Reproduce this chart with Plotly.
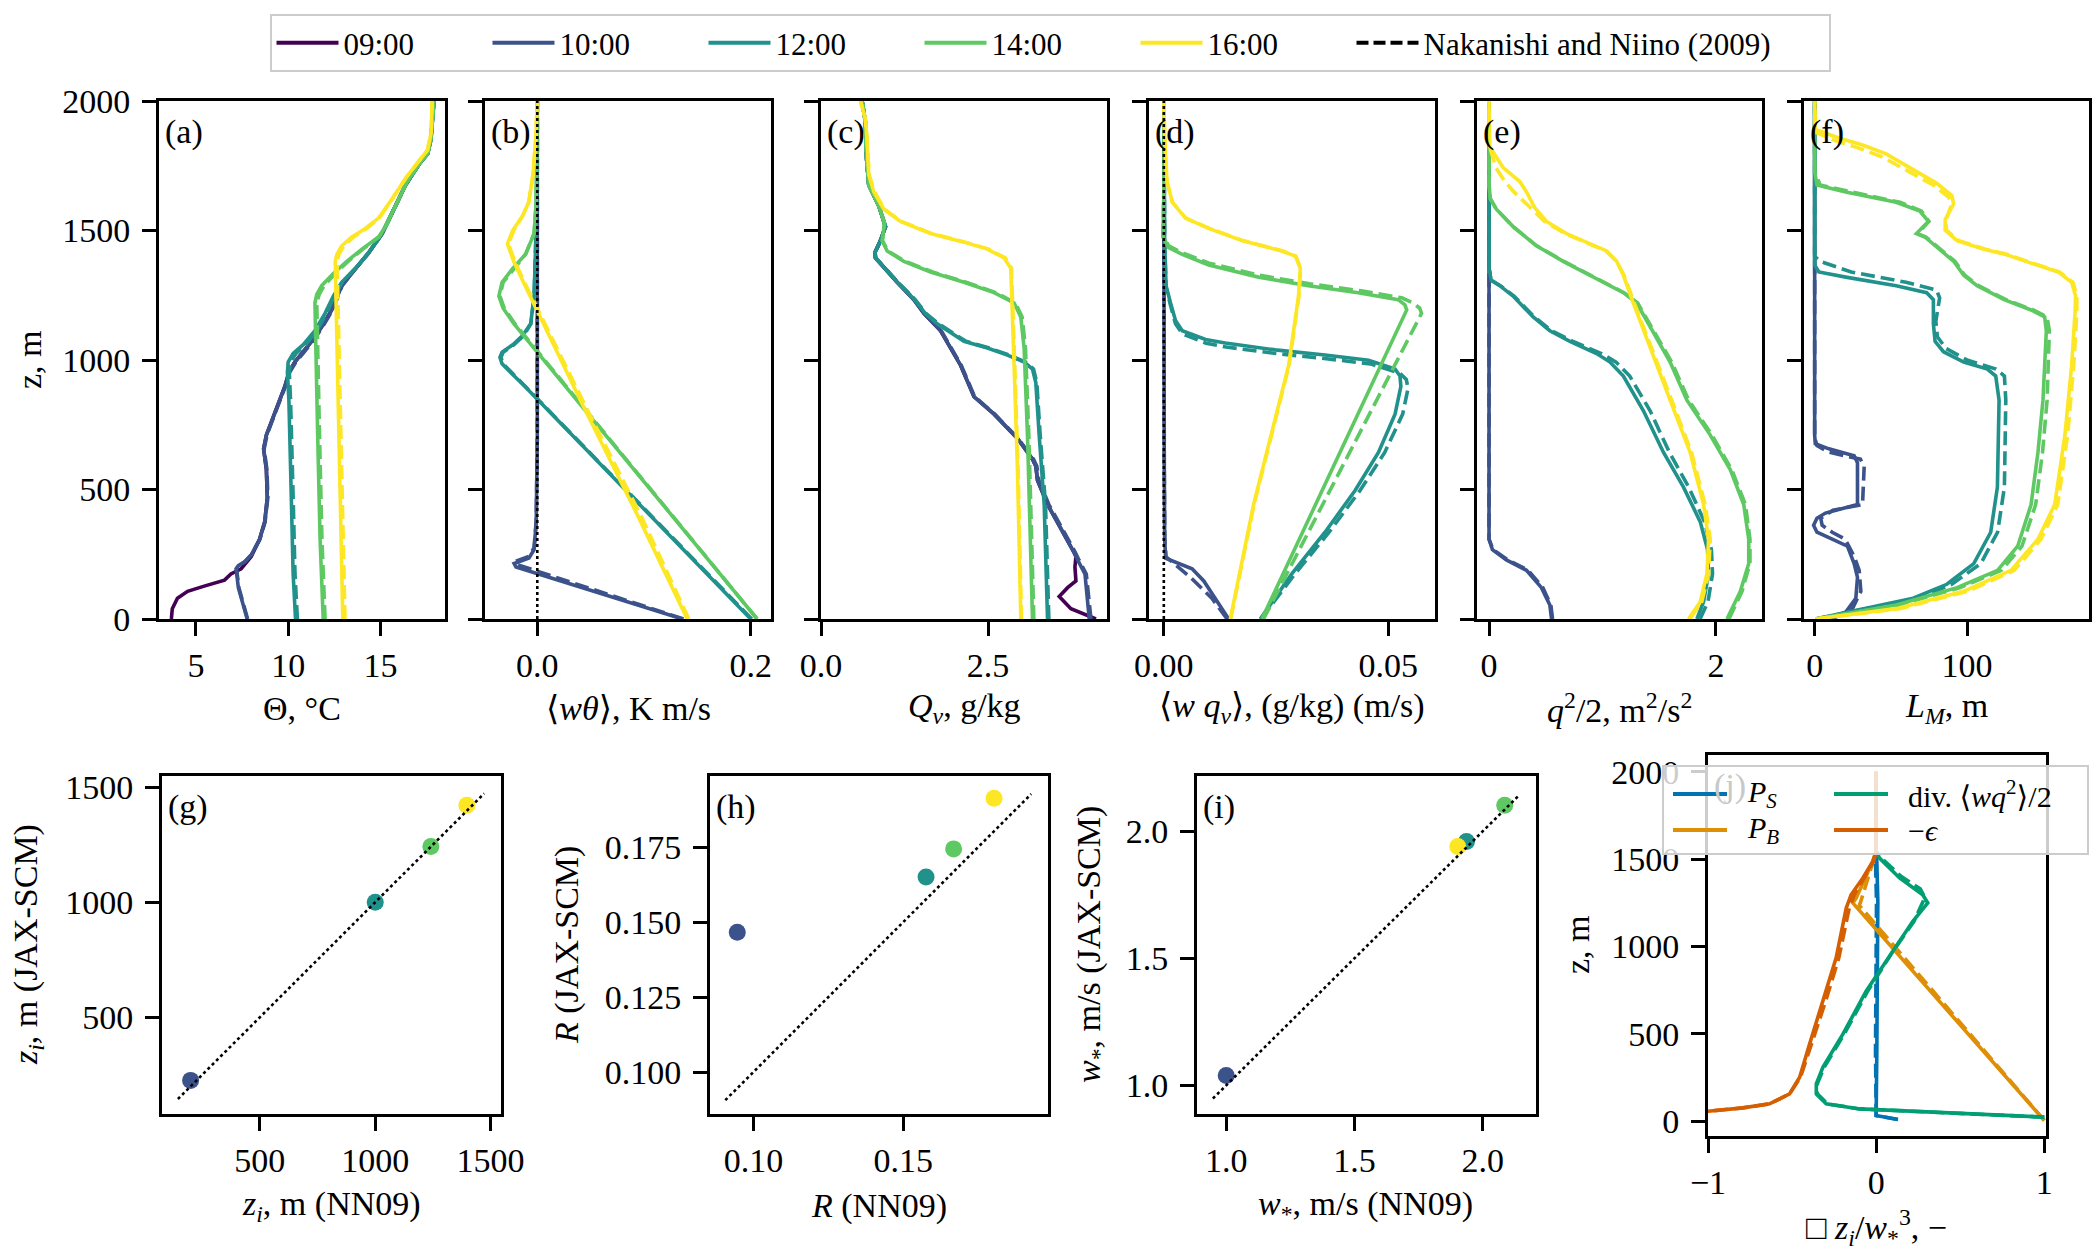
import plotly.graph_objects as go

W, H = 2100, 1260
FONT = "Liberation Serif, DejaVu Serif, serif"
FS = 34
C09, C10, C12, C14, C16 = "#440154", "#3b528b", "#21918c", "#5ec962", "#fde725"
CPS, CPB, CDIV, CEPS = "#0173b2", "#de8f05", "#029e73", "#d55e00"

# ---------------- (a) potential temperature, degC ----------------
a09_z = [0, 40, 80, 107, 127, 150, 174, 194, 241, 308, 375, 469, 576, 657, 710, 777, 845, 898, 952, 992, 1025, 1072, 1126, 1193, 1287, 1354, 1414, 1488, 1568, 1676, 1756, 1796, 1850, 2000]
a09_x = [3.67, 3.72, 4.0, 4.55, 5.45, 6.55, 6.9, 7.45, 8.0, 8.45, 8.73, 8.87, 8.82, 8.67, 8.82, 9.18, 9.55, 9.82, 10.04, 10.36, 10.73, 11.27, 11.8, 12.36, 12.9, 13.64, 14.36, 15.09, 15.64, 16.36, 17.09, 17.55, 17.73, 17.9]
a10_z = [0, 54, 121, 194, 206, 221, 248, 308, 375, 469, 576, 657, 710, 777, 845, 898, 952, 992, 1025, 1072, 1126, 1193, 1287, 1354, 1414, 1488, 1568, 1676, 1756, 1796, 1850, 2000]
a10_x = [7.78, 7.55, 7.3, 7.18, 7.3, 7.64, 8.0, 8.45, 8.73, 8.87, 8.82, 8.67, 8.82, 9.18, 9.55, 9.82, 10.04, 10.36, 10.73, 11.27, 11.8, 12.36, 12.9, 13.64, 14.36, 15.09, 15.64, 16.36, 17.09, 17.55, 17.73, 17.9]
a10_xn = [7.8, 7.57, 7.33, 7.2, 7.32, 7.66, 8.02, 8.47, 8.75, 8.9, 8.85, 8.7, 8.85, 9.2, 9.57, 9.85, 10.08, 10.42, 10.8, 11.33, 11.85, 12.4, 12.93, 13.66, 14.38, 15.1, 15.65, 16.37, 17.1, 17.56, 17.74, 17.9]
a12_z = [0, 174, 442, 710, 845, 952, 992, 1025, 1059, 1113, 1180, 1247, 1300, 1354, 1414, 1488, 1568, 1676, 1756, 1796, 1850, 2000]
a12_x = [10.4, 10.27, 10.18, 10.11, 10.04, 9.96, 10.0, 10.27, 10.82, 11.45, 12.0, 12.45, 12.9, 13.64, 14.36, 15.09, 15.64, 16.36, 17.09, 17.55, 17.73, 17.9]
a12_xn = [10.5, 10.37, 10.28, 10.2, 10.13, 10.06, 10.12, 10.42, 10.95, 11.55, 12.08, 12.5, 12.93, 13.66, 14.38, 15.1, 15.65, 16.37, 17.1, 17.56, 17.74, 17.9]
a14_z = [0, 308, 710, 979, 1220, 1253, 1287, 1334, 1381, 1428, 1475, 1515, 1595, 1689, 1756, 1796, 1850, 2000]
a14_x = [11.9, 11.73, 11.6, 11.5, 11.45, 11.55, 11.82, 12.45, 13.18, 14.0, 14.9, 15.27, 15.8, 16.45, 17.09, 17.55, 17.73, 17.9]
a14_xn = [12.0, 11.83, 11.7, 11.6, 11.55, 11.68, 11.95, 12.55, 13.25, 14.05, 14.92, 15.28, 15.8, 16.45, 17.09, 17.55, 17.73, 17.9]
a16_z = [0, 442, 845, 1113, 1381, 1408, 1441, 1475, 1508, 1548, 1622, 1702, 1769, 1810, 1877, 2000]
a16_x = [12.96, 12.82, 12.69, 12.6, 12.55, 12.64, 12.9, 13.45, 14.18, 14.9, 15.64, 16.36, 17.09, 17.55, 17.75, 17.8]
a16_xn = [13.08, 12.93, 12.79, 12.7, 12.65, 12.75, 13.02, 13.55, 14.25, 14.95, 15.66, 16.37, 17.09, 17.55, 17.75, 17.8]

# ---------------- (b) heat flux <w theta>, K m/s ----------------
b10_z = [0, 201, 214, 235, 268, 375, 700, 2000]
b10_x = [0.136, -0.020, -0.0217, -0.0078, -0.003, -0.001, 0.0, 0.0]
b10n_z = [0, 210, 222, 242, 275, 380, 700, 2000]
b10n_x = [0.137, -0.019, -0.021, -0.008, -0.003, -0.001, 0.0, 0.0]
b12_z = [0, 520, 845, 900, 952, 985, 1010, 1030, 1059, 1093, 1140, 1247, 1515, 1782, 2000]
b12_x = [0.200, 0.0775, 0.0016, -0.012, -0.025, -0.033, -0.035, -0.033, -0.023, -0.014, -0.0062, -0.003, -0.001, 0.0, 0.0]
b12_xn = [0.201, 0.0785, 0.0022, -0.011, -0.024, -0.032, -0.034, -0.032, -0.022, -0.013, -0.006, -0.003, -0.001, 0.0, 0.0]
b14_z = [0, 791, 1030, 1140, 1200, 1247, 1300, 1354, 1408, 1488, 1609, 2000]
b14_x = [0.206, 0.048, 0.0, -0.022, -0.032, -0.036, -0.033, -0.023, -0.011, -0.003, -0.001, 0.0]
b14_xn = [0.206, 0.049, 0.001, -0.021, -0.031, -0.035, -0.032, -0.022, -0.011, -0.003, -0.001, 0.0]
b16_z = [0, 400, 831, 1186, 1300, 1380, 1420, 1448, 1501, 1555, 1609, 1716, 1850, 2000]
b16_x = [0.1405, 0.094, 0.042, 0.0, -0.013, -0.022, -0.026, -0.028, -0.023, -0.014, -0.008, -0.004, -0.0015, 0.0]
b16_xn = [0.142, 0.097, 0.044, 0.001, -0.012, -0.021, -0.025, -0.027, -0.022, -0.014, -0.008, -0.004, -0.0015, 0.0]

# ---------------- (c) specific humidity Qv, g/kg ----------------
c09_z = [0, 40, 87, 121, 147, 201, 241, 255, 349, 442, 536, 590, 617, 697, 791, 858, 979, 1113, 1180, 1233, 1300, 1394, 1414, 1461, 1515, 1595, 1676, 1783, 1917, 2000]
c09_x = [4.115, 3.74, 3.565, 3.69, 3.815, 3.8, 3.815, 3.79, 3.59, 3.39, 3.24, 3.215, 3.165, 2.94, 2.59, 2.29, 2.09, 1.79, 1.54, 1.39, 1.14, 0.815, 0.805, 0.89, 0.965, 0.865, 0.715, 0.68, 0.665, 0.615]
c10_z = [0, 174, 228, 255, 349, 442, 536, 590, 617, 697, 791, 858, 979, 1113, 1180, 1233, 1300, 1394, 1414, 1461, 1515, 1595, 1676, 1783, 1917, 2000]
c10_x = [4.015, 3.95, 3.84, 3.79, 3.59, 3.39, 3.24, 3.215, 3.165, 2.94, 2.59, 2.29, 2.09, 1.79, 1.54, 1.39, 1.14, 0.815, 0.805, 0.89, 0.965, 0.865, 0.715, 0.68, 0.665, 0.615]
c10_xn = [4.04, 3.97, 3.86, 3.81, 3.61, 3.41, 3.26, 3.23, 3.18, 2.95, 2.6, 2.3, 2.1, 1.8, 1.55, 1.4, 1.15, 0.82, 0.81, 0.89, 0.965, 0.865, 0.715, 0.68, 0.665, 0.615]
c12_z = [0, 442, 710, 912, 965, 992, 1019, 1046, 1072, 1113, 1140, 1180, 1233, 1300, 1394, 1414, 1461, 1515, 1595, 1676, 1783, 1917, 2000]
c12_x = [3.39, 3.34, 3.265, 3.215, 3.165, 3.04, 2.79, 2.49, 2.14, 1.89, 1.74, 1.56, 1.40, 1.14, 0.815, 0.805, 0.89, 0.965, 0.865, 0.715, 0.68, 0.665, 0.615]
c12_xn = [3.41, 3.36, 3.28, 3.23, 3.18, 3.06, 2.82, 2.52, 2.17, 1.91, 1.76, 1.57, 1.41, 1.15, 0.82, 0.81, 0.89, 0.965, 0.865, 0.715, 0.68, 0.665, 0.615]
c14_z = [0, 710, 1046, 1166, 1220, 1260, 1300, 1340, 1381, 1421, 1461, 1501, 1528, 1595, 1676, 1783, 1917, 2000]
c14_x = [3.165, 3.09, 3.04, 2.99, 2.89, 2.59, 2.14, 1.64, 1.24, 0.99, 0.915, 0.94, 0.95, 0.865, 0.715, 0.68, 0.665, 0.615]
c14_xn = [3.185, 3.11, 3.06, 3.01, 2.91, 2.62, 2.17, 1.67, 1.26, 1.0, 0.92, 0.94, 0.95, 0.865, 0.715, 0.68, 0.665, 0.615]
c16_z = [0, 576, 979, 1220, 1354, 1394, 1428, 1455, 1488, 1535, 1582, 1649, 1716, 1850, 1930, 2000]
c16_x = [2.99, 2.94, 2.89, 2.865, 2.84, 2.74, 2.49, 2.14, 1.64, 1.19, 0.94, 0.79, 0.715, 0.69, 0.665, 0.59]
c16_xn = [3.0, 2.95, 2.9, 2.875, 2.85, 2.76, 2.51, 2.16, 1.66, 1.2, 0.95, 0.8, 0.72, 0.69, 0.665, 0.59]

# ---------------- (d) moisture flux <w qv>, (g/kg)(m/s) ----------------
d10_z = [0, 67, 147, 194, 235, 308, 600, 2000]
d10_x = [0.01444, 0.01185, 0.0089, 0.0063, 0.0004, 0.0002, 0.0001, 0.0]
d10n_z = [0, 80, 160, 210, 240, 308, 600, 2000]
d10n_x = [0.0141, 0.0107, 0.0060, 0.0025, 0.0005, 0.0002, 0.0001, 0.0]
d12_z = [0, 174, 335, 496, 643, 791, 898, 938, 965, 999, 1019, 1039, 1066, 1079, 1113, 1153, 1220, 1287, 1448, 2000]
d12_x = [0.02148, 0.0285, 0.0359, 0.0426, 0.0478, 0.0515, 0.0528, 0.0526, 0.0515, 0.0456, 0.0359, 0.0248, 0.0137, 0.0093, 0.0041, 0.0026, 0.0015, 0.0005, 0.0002, 0.0]
d12n_z = [0, 174, 335, 496, 643, 791, 890, 925, 950, 985, 1005, 1025, 1050, 1065, 1100, 1140, 1210, 1280, 1448, 2000]
d12n_x = [0.0216, 0.0292, 0.0368, 0.0437, 0.0492, 0.0532, 0.0544, 0.0540, 0.0525, 0.0460, 0.0362, 0.0250, 0.0139, 0.0094, 0.0042, 0.0026, 0.0015, 0.0005, 0.0002, 0.0]
d14_z = [0, 1153, 1193, 1213, 1233, 1260, 1287, 1320, 1367, 1408, 1434, 1475, 1649, 2000]
d14_x = [0.02185, 0.0530, 0.0541, 0.0537, 0.0522, 0.0433, 0.0322, 0.0211, 0.0100, 0.0041, 0.0011, -0.0002, 0.0, 0.0]
d14n_z = [0, 1180, 1200, 1220, 1240, 1267, 1294, 1327, 1374, 1414, 1441, 1480, 1649, 2000]
d14n_x = [0.0222, 0.0574, 0.0570, 0.0555, 0.0530, 0.0440, 0.0325, 0.0213, 0.0101, 0.0041, 0.0011, -0.0002, 0.0, 0.0]
d16_z = [0, 442, 979, 1247, 1354, 1401, 1421, 1461, 1508, 1548, 1609, 1689, 1850, 2000]
d16_x = [0.0148, 0.0200, 0.0278, 0.0300, 0.0304, 0.0293, 0.0263, 0.0174, 0.0100, 0.0048, 0.0019, 0.0007, 0.0002, 0.0]
d16_xn = [0.0149, 0.0201, 0.0279, 0.0301, 0.0305, 0.0294, 0.0265, 0.0176, 0.0101, 0.0049, 0.0019, 0.0007, 0.0002, 0.0]

# ---------------- (e) TKE q^2/2, m2/s2 ----------------
e10_z = [0, 54, 121, 188, 228, 268, 308, 2000]
e10_x = [0.551, 0.536, 0.462, 0.33, 0.153, 0.03, 0.0, 0.0]
e10_xn = [0.56, 0.545, 0.475, 0.345, 0.165, 0.035, 0.0, 0.0]
e12_z = [0, 67, 174, 268, 375, 509, 643, 804, 938, 992, 1025, 1072, 1113, 1166, 1247, 1287, 1307, 1354, 2000]
e12_x = [1.832, 1.891, 1.935, 1.926, 1.862, 1.714, 1.538, 1.361, 1.184, 1.066, 0.948, 0.713, 0.536, 0.389, 0.212, 0.094, 0.02, 0.0, 0.0]
e12_xn = [1.86, 1.93, 1.97, 1.96, 1.90, 1.76, 1.59, 1.42, 1.24, 1.12, 0.99, 0.74, 0.55, 0.40, 0.22, 0.10, 0.025, 0.0, 0.0]
e14_z = [0, 107, 214, 308, 442, 576, 710, 845, 992, 1126, 1220, 1260, 1314, 1381, 1441, 1515, 1582, 1622, 1676, 2000]
e14_x = [2.097, 2.215, 2.289, 2.289, 2.245, 2.127, 1.95, 1.744, 1.596, 1.42, 1.302, 1.184, 0.948, 0.654, 0.418, 0.212, 0.065, 0.012, 0.0, 0.0]
e14_xn = [2.115, 2.23, 2.30, 2.30, 2.26, 2.14, 1.965, 1.76, 1.61, 1.43, 1.31, 1.19, 0.955, 0.66, 0.42, 0.212, 0.065, 0.012, 0.0, 0.0]
e16_z = [0, 67, 174, 308, 442, 643, 845, 1046, 1220, 1327, 1381, 1421, 1454, 1488, 1535, 1588, 1649, 1689, 1743, 1823, 1900, 2000]
e16_x = [1.758, 1.862, 1.92, 1.935, 1.891, 1.773, 1.596, 1.42, 1.272, 1.184, 1.125, 1.037, 0.86, 0.683, 0.507, 0.403, 0.33, 0.271, 0.124, 0.006, 0.0, 0.0]
e16_xn = [1.77, 1.875, 1.935, 1.95, 1.905, 1.785, 1.61, 1.43, 1.28, 1.19, 1.125, 1.03, 0.85, 0.67, 0.49, 0.36, 0.22, 0.14, 0.06, 0.006, 0.0, 0.0]

# ---------------- (f) mixing length L_M, m ----------------
f10_z = [0, 27, 80, 161, 214, 281, 308, 335, 362, 389, 409, 442, 603, 630, 657, 677, 710, 2000]
f10_x = [9.3, 20.4, 27.0, 28.1, 25.9, 21.5, 11.5, 1.5, -0.7, 1.5, 7.1, 28.1, 28.1, 25.9, 9.3, 0.4, 0.0, 0.0]
f10n_z = [0, 40, 107, 188, 241, 308, 335, 362, 389, 420, 442, 590, 617, 644, 670, 700, 2000]
f10n_x = [11.5, 24.8, 30.3, 29.2, 26.0, 20.0, 11.5, 4.9, 4.0, 12.0, 31.4, 32.5, 30.0, 9.3, 1.5, 0.0, 0.0]
f12_z = [0, 40, 80, 134, 214, 335, 509, 845, 938, 965, 992, 1032, 1072, 1140, 1233, 1260, 1287, 1320, 1340, 1367, 2000]
f12_x = [0.4, 31.4, 64.6, 86.7, 104.4, 115.5, 119.9, 121.0, 118.8, 113.3, 97.8, 84.5, 79.0, 77.9, 77.9, 73.5, 53.5, 20.4, 2.7, 0.0, 0.0]
f12n_z = [0, 40, 80, 134, 214, 335, 509, 845, 938, 965, 1000, 1045, 1090, 1150, 1240, 1270, 1300, 1340, 1380, 1400, 2000]
f12n_x = [0.5, 33.0, 68.0, 90.0, 109.0, 120.0, 124.5, 125.4, 124.5, 119.0, 100.0, 86.0, 80.5, 79.5, 82.0, 80.0, 60.0, 24.0, 4.0, 0.0, 0.0]
f14_z = [0, 54, 121, 188, 281, 442, 643, 845, 1113, 1166, 1193, 1233, 1287, 1327, 1381, 1434, 1475, 1488, 1515, 1535, 1575, 1609, 1649, 1676, 1729, 2000]
f14_x = [0.4, 53.5, 93.4, 120.0, 133.2, 142.0, 146.5, 149.8, 152.0, 150.9, 142.0, 124.3, 106.6, 97.8, 91.2, 80.1, 72.3, 66.8, 71.2, 74.6, 69.0, 53.5, 20.4, 1.5, 0.0, 0.0]
f14_xn = [0.5, 55.0, 95.5, 122.5, 136.0, 145.0, 149.5, 152.5, 154.0, 152.5, 143.5, 125.5, 107.5, 98.5, 92.0, 81.0, 73.0, 67.5, 72.0, 75.0, 70.0, 56.0, 24.0, 3.5, 0.0, 0.0]
f16_z = [0, 40, 107, 188, 308, 442, 710, 979, 1180, 1247, 1300, 1340, 1374, 1408, 1428, 1461, 1501, 1542, 1602, 1635, 1682, 1736, 1796, 1830, 1857, 1890, 2000]
f16_x = [0.4, 53.5, 97.8, 128.8, 146.5, 157.5, 164.2, 168.6, 170.8, 171.2, 168.6, 159.7, 142.0, 125.0, 111.0, 93.4, 85.6, 85.6, 91.2, 90.0, 80.1, 64.6, 46.9, 31.4, 15.9, 0.4, 0.0]
f16n_z = [0, 40, 107, 188, 308, 442, 710, 979, 1180, 1247, 1300, 1340, 1374, 1408, 1428, 1461, 1501, 1540, 1595, 1628, 1675, 1725, 1785, 1820, 1850, 1880, 2000]
f16n_x = [0.5, 56.0, 100.5, 131.0, 148.5, 159.5, 166.0, 170.0, 172.0, 172.0, 169.5, 160.5, 143.0, 126.0, 112.0, 94.5, 86.5, 86.0, 89.5, 88.0, 78.0, 62.0, 44.0, 28.0, 12.0, 0.4, 0.0]

# ---------------- (g)-(i) scatter: NN09 vs JAX-SCM (10, 12, 14, 16 h) ----------------
zi_nn09 = [200, 1000, 1241, 1397]
zi_jax = [226, 1000, 1242, 1421]
r_nn09 = [0.0946, 0.1576, 0.1668, 0.1803]
r_jax = [0.1466, 0.1650, 0.1744, 0.1913]
ws_nn09 = [1.000, 1.937, 2.086, 1.903]
ws_jax = [1.039, 1.960, 2.103, 1.940]
zi_diag = [145, 1472]
r_diag = [0.0906, 0.1927]
ws_diag = [0.948, 2.141]

# ---------------- (j) TKE budget, normalised ----------------
ps_z = [10, 32, 403, 973, 1258, 1487, 1544, 2000]
ps_x = [0.129, 0.0, 0.004, 0.010, 0.010, 0.004, 0.0, 0.0]
ps_xn = [0.130, 0.0, -0.004, 0.0, 0.002, -0.004, 0.0, 0.0]
pb_z = [4, 1249, 1277, 1487, 1544, 2000]
pb_x = [1.0, -0.139, -0.119, -0.02, 0.0, 0.0]
pbn_z = [4, 1235, 1262, 1487, 1544, 2000]
pbn_x = [1.0, -0.100, -0.090, -0.02, 0.0, 0.0]
div_z = [23, 36, 51, 70, 99, 156, 213, 308, 498, 745, 973, 1144, 1249, 1296, 1392, 1506, 1544, 2000]
div_x = [1.0, 0.693, 0.297, -0.099, -0.297, -0.356, -0.356, -0.317, -0.198, -0.059, 0.099, 0.218, 0.307, 0.277, 0.139, 0.02, 0.0, 0.0]
divn_z = [23, 36, 51, 70, 99, 156, 213, 308, 498, 745, 973, 1144, 1280, 1330, 1400, 1506, 1544, 2000]
divn_x = [1.0, 0.693, 0.297, -0.099, -0.29, -0.35, -0.35, -0.31, -0.19, -0.05, 0.10, 0.225, 0.29, 0.262, 0.15, 0.03, 0.0, 0.0]
eps_z = [48, 57, 76, 99, 156, 251, 441, 688, 935, 1220, 1296, 1392, 1487, 1544, 2000]
eps_x = [-1.2, -1.0, -0.792, -0.634, -0.515, -0.455, -0.396, -0.317, -0.238, -0.178, -0.149, -0.079, -0.02, 0.0, 0.0]
eps_xn = [-1.2, -1.0, -0.792, -0.634, -0.515, -0.45, -0.385, -0.300, -0.222, -0.16, -0.13, -0.07, -0.015, 0.0, 0.0]

legend_names = ["09:00", "10:00", "12:00", "14:00", "16:00"]
legend_colors = [C09, C10, C12, C14, C16]
budget_names = ["<i>P<sub>S</sub></i>", "<i>P<sub>B</sub></i>", "div. ⟨<i>wq</i><sup>2</sup>⟩/2", "−<i>ϵ</i>"]
budget_colors = [CPS, CPB, CDIV, CEPS]

# ---------------- layout geometry (pixels) ----------------
boxes = {
    1: (159, 445, 101, 619), 2: (485, 771, 101, 619), 3: (821, 1107, 101, 619),
    4: (1149, 1435, 101, 619), 5: (1477, 1762, 101, 619), 6: (1804, 2089, 101, 619),
    7: (162, 501, 776, 1114), 8: (710, 1048, 776, 1114), 9: (1197, 1536, 776, 1114),
    10: (1708, 2046, 755, 1136),
}


def px(x):
    return x / W


def py(y):
    return 1 - y / H


fig = go.Figure()

LW = 3.6
DASH = "14px,6px"


def prof(ax, x, z, color, dashed=False, width=LW):
    fig.add_trace(go.Scatter(
        x=x, y=z, mode="lines", xaxis=f"x{ax}", yaxis=f"y{ax}",
        line=dict(color=color, width=width, dash=DASH if dashed else "solid"),
        showlegend=False, hoverinfo="skip"))


# (a)
prof(1, a09_x, a09_z, C09)
prof(1, a10_x, a10_z, C10); prof(1, a10_xn, a10_z, C10, True)
prof(1, a12_x, a12_z, C12); prof(1, a12_xn, a12_z, C12, True)
prof(1, a14_x, a14_z, C14); prof(1, a14_xn, a14_z, C14, True)
prof(1, a16_x, a16_z, C16); prof(1, a16_xn, a16_z, C16, True)
# (b)
prof(2, b10_x, b10_z, C10); prof(2, b10n_x, b10n_z, C10, True)
prof(2, b12_x, b12_z, C12); prof(2, b12_xn, b12_z, C12, True)
prof(2, b14_x, b14_z, C14); prof(2, b14_xn, b14_z, C14, True)
prof(2, b16_x, b16_z, C16); prof(2, b16_xn, b16_z, C16, True)
# (c)
prof(3, c09_x, c09_z, C09)
prof(3, c10_x, c10_z, C10); prof(3, c10_xn, c10_z, C10, True)
prof(3, c12_x, c12_z, C12); prof(3, c12_xn, c12_z, C12, True)
prof(3, c14_x, c14_z, C14); prof(3, c14_xn, c14_z, C14, True)
prof(3, c16_x, c16_z, C16); prof(3, c16_xn, c16_z, C16, True)
# (d)
prof(4, d10_x, d10_z, C10); prof(4, d10n_x, d10n_z, C10, True)
prof(4, d12_x, d12_z, C12); prof(4, d12n_x, d12n_z, C12, True)
prof(4, d14_x, d14_z, C14); prof(4, d14n_x, d14n_z, C14, True)
prof(4, d16_x, d16_z, C16); prof(4, d16_xn, d16_z, C16, True)
# (e)
prof(5, e10_x, e10_z, C10); prof(5, e10_xn, e10_z, C10, True)
prof(5, e12_x, e12_z, C12); prof(5, e12_xn, e12_z, C12, True)
prof(5, e14_x, e14_z, C14); prof(5, e14_xn, e14_z, C14, True)
prof(5, e16_x, e16_z, C16); prof(5, e16_xn, e16_z, C16, True)
# (f)
prof(6, f10_x, f10_z, C10); prof(6, f10n_x, f10n_z, C10, True)
prof(6, f12_x, f12_z, C12); prof(6, f12n_x, f12n_z, C12, True)
prof(6, f14_x, f14_z, C14); prof(6, f14_xn, f14_z, C14, True)
prof(6, f16_x, f16_z, C16); prof(6, f16n_x, f16n_z, C16, True)

# zero reference lines in (b) and (d)
for ax in (2, 4):
    fig.add_trace(go.Scatter(x=[0, 0], y=[0, 2000], mode="lines", xaxis=f"x{ax}", yaxis=f"y{ax}",
                             line=dict(color="black", width=2.6, dash="dot"),
                             showlegend=False, hoverinfo="skip"))

# scatter panels
for ax, nn, jx, dg in ((7, zi_nn09, zi_jax, zi_diag), (8, r_nn09, r_jax, r_diag), (9, ws_nn09, ws_jax, ws_diag)):
    fig.add_trace(go.Scatter(x=nn, y=jx, mode="markers", xaxis=f"x{ax}", yaxis=f"y{ax}",
                             marker=dict(color=[C10, C12, C14, C16], size=17, line=dict(width=0)),
                             showlegend=False, hoverinfo="skip"))
    fig.add_trace(go.Scatter(x=dg, y=dg, mode="lines", xaxis=f"x{ax}", yaxis=f"y{ax}",
                             line=dict(color="black", width=2.6, dash="dot"),
                             showlegend=False, hoverinfo="skip"))


# (j) budget
def budget(x, z, color, name, dashed=False):
    fig.add_trace(go.Scatter(
        x=x, y=z, mode="lines", xaxis="x10", yaxis="y10", name=name,
        line=dict(color=color, width=LW, dash=DASH if dashed else "solid"),
        showlegend=False, hoverinfo="skip"))


budget(ps_x, ps_z, CPS, budget_names[0])
budget(ps_xn, ps_z, CPS, budget_names[0], True)
budget(pb_x, pb_z, CPB, budget_names[1])
budget(pbn_x, pbn_z, CPB, budget_names[1], True)
budget(div_x, div_z, CDIV, budget_names[2])
budget(divn_x, divn_z, CDIV, budget_names[2], True)
budget(eps_x, eps_z, CEPS, budget_names[3])
budget(eps_xn, eps_z, CEPS, budget_names[3], True)

# main legend entries
for nm, col in zip(legend_names, legend_colors):
    fig.add_trace(go.Scatter(x=[None], y=[None], mode="lines", xaxis="x1", yaxis="y1", name=nm,
                             line=dict(color=col, width=4), legend="legend"))
fig.add_trace(go.Scatter(x=[None], y=[None], mode="lines", xaxis="x1", yaxis="y1",
                         name="Nakanishi and Niino (2009)", legendwidth=400,
                         line=dict(color="black", width=4, dash="12px,5px"), legend="legend"))

# ---------------- axes ----------------
zticks = [0, 500, 1000, 1500, 2000]
xcfg = {
    1: dict(range=[3.0, 18.5], tickvals=[5, 10, 15]),
    2: dict(range=[-0.049, 0.219], tickvals=[0.0, 0.2], ticktext=["0.0", "0.2"]),
    3: dict(range=[0.0, 4.28], tickvals=[0.0, 2.5], ticktext=["0.0", "2.5"]),
    4: dict(range=[-0.0033, 0.0604], tickvals=[0.0, 0.05], ticktext=["0.00", "0.05"]),
    5: dict(range=[-0.106, 2.406], tickvals=[0, 2]),
    6: dict(range=[-7, 180], tickvals=[0, 100]),
    7: dict(range=[76, 1545], tickvals=[500, 1000, 1500]),
    8: dict(range=[0.0855, 0.1983], tickvals=[0.10, 0.15], ticktext=["0.10", "0.15"]),
    9: dict(range=[0.886, 2.208], tickvals=[1.0, 1.5, 2.0], ticktext=["1.0", "1.5", "2.0"]),
    10: dict(range=[-1, 1.01], tickvals=[-1, 0, 1], ticktext=["−1", "0", "1"]),
}
ycfg = {
    7: dict(range=[80, 1548], tickvals=[500, 1000, 1500]),
    8: dict(range=[0.086, 0.1987], tickvals=[0.100, 0.125, 0.150, 0.175],
            ticktext=["0.100", "0.125", "0.150", "0.175"]),
    9: dict(range=[0.887, 2.218], tickvals=[1.0, 1.5, 2.0], ticktext=["1.0", "1.5", "2.0"]),
    10: dict(range=[-85, 2096], tickvals=zticks),
}
common = dict(showgrid=False, zeroline=False, showline=True, mirror=True, linecolor="black",
              linewidth=2.8, ticks="outside", ticklen=14, tickwidth=2.6, tickcolor="black",
              tickfont=dict(family=FONT, size=FS, color="black"), fixedrange=True,
              automargin=False)

layout_axes = {}
for ax, (x0, x1, y0, y1) in boxes.items():
    xa = dict(common, domain=[px(x0), px(x1)], anchor=f"y{ax}", **xcfg[ax])
    if ax <= 6:
        ya = dict(common, domain=[py(y1), py(y0)], anchor=f"x{ax}", range=[0, 2000], tickvals=zticks,
                  showticklabels=(ax == 1), ticklabelstandoff=5)
    else:
        ya = dict(common, domain=[py(y1), py(y0)], anchor=f"x{ax}", ticklabelstandoff=5, **ycfg[ax])
    layout_axes["xaxis" if ax == 1 else f"xaxis{ax}"] = xa
    layout_axes["yaxis" if ax == 1 else f"yaxis{ax}"] = ya

fig.update_layout(**layout_axes)

# ---------------- annotations ----------------
ann = []


def text(x, y, s, size=FS, xanchor="center", yanchor="middle", angle=0, color="black"):
    ann.append(dict(x=px(x), y=py(y), xref="paper", yref="paper", text=s, showarrow=False,
                    xanchor=xanchor, yanchor=yanchor, textangle=angle,
                    font=dict(family=FONT, size=size, color=color)))


labels = {1: "(a)", 2: "(b)", 3: "(c)", 4: "(d)", 5: "(e)", 6: "(f)", 7: "(g)", 8: "(h)", 9: "(i)", 10: "(j)"}
for ax, (x0, x1, y0, y1) in boxes.items():
    text(x0 + 4, y0 + 10, labels[ax], xanchor="left", yanchor="top",
         color="#c8c8c8" if ax == 10 else "black")

xtitles_top = ["Θ, °C", "⟨<i>wθ</i>⟩, K m/s", "<i>Q<sub>v</sub></i>, g/kg",
               "⟨<i>w q<sub>v</sub></i>⟩, (g/kg) (m/s)", "<i>q</i><sup>2</sup>/2, m<sup>2</sup>/s<sup>2</sup>",
               "<i>L<sub>M</sub></i>, m"]
for i, t in enumerate(xtitles_top):
    x0, x1, y0, y1 = boxes[i + 1]
    text((x0 + x1) / 2, 708, t)
text(29, 360, "z, m", angle=-90)

text(331, 1206, "<i>z<sub>i</sub></i>, m (NN09)")
text(879, 1206, "<i>R</i> (NN09)")
text(1365, 1206, "<i>w</i><sub>*</sub>, m/s (NN09)")
text(1876, 1227, "□ <i>z<sub>i</sub></i>/<i>w</i><sub>*</sub><sup>3</sup>, −")
text(28, 945, "<i>z<sub>i</sub></i>, m (JAX-SCM)", angle=-90)
text(567, 945, "<i>R</i> (JAX-SCM)", angle=-90)
text(1091, 945, "<i>w</i><sub>*</sub>, m/s (JAX-SCM)", angle=-90)
text(1577, 945, "z, m", angle=-90)

# legend box for (j): semi-transparent frame, line samples and labels
shapes = [dict(type="rect", xref="paper", yref="paper", x0=px(1663), x1=px(2088), y0=py(854), y1=py(766),
               fillcolor="rgba(255,255,255,0.8)", line=dict(color="#cccccc", width=2), layer="above")]
slots = [(1673, 794), (1673, 830), (1834, 794), (1834, 830)]
for (sx, sy), nm, col in zip(slots, budget_names, budget_colors):
    shapes.append(dict(type="line", xref="paper", yref="paper", x0=px(sx), x1=px(sx + 54),
                       y0=py(sy), y1=py(sy), line=dict(color=col, width=4), layer="above"))
    text(sx + 72, sy, nm, size=30, xanchor="left")

fig.update_layout(
    width=W, height=H, margin=dict(l=0, r=0, t=0, b=0, pad=0, autoexpand=False),
    paper_bgcolor="white", plot_bgcolor="white",
    font=dict(family=FONT, size=FS, color="black"),
    annotations=ann, shapes=shapes,
    legend=dict(orientation="h", x=px(1050), y=py(14), xanchor="center", yanchor="top",
                bgcolor="white", bordercolor="#cccccc", borderwidth=2,
                font=dict(family=FONT, size=31), itemwidth=62, entrywidth=139,
                itemclick=False, itemdoubleclick=False),
)

fig.write_html("out.html")
